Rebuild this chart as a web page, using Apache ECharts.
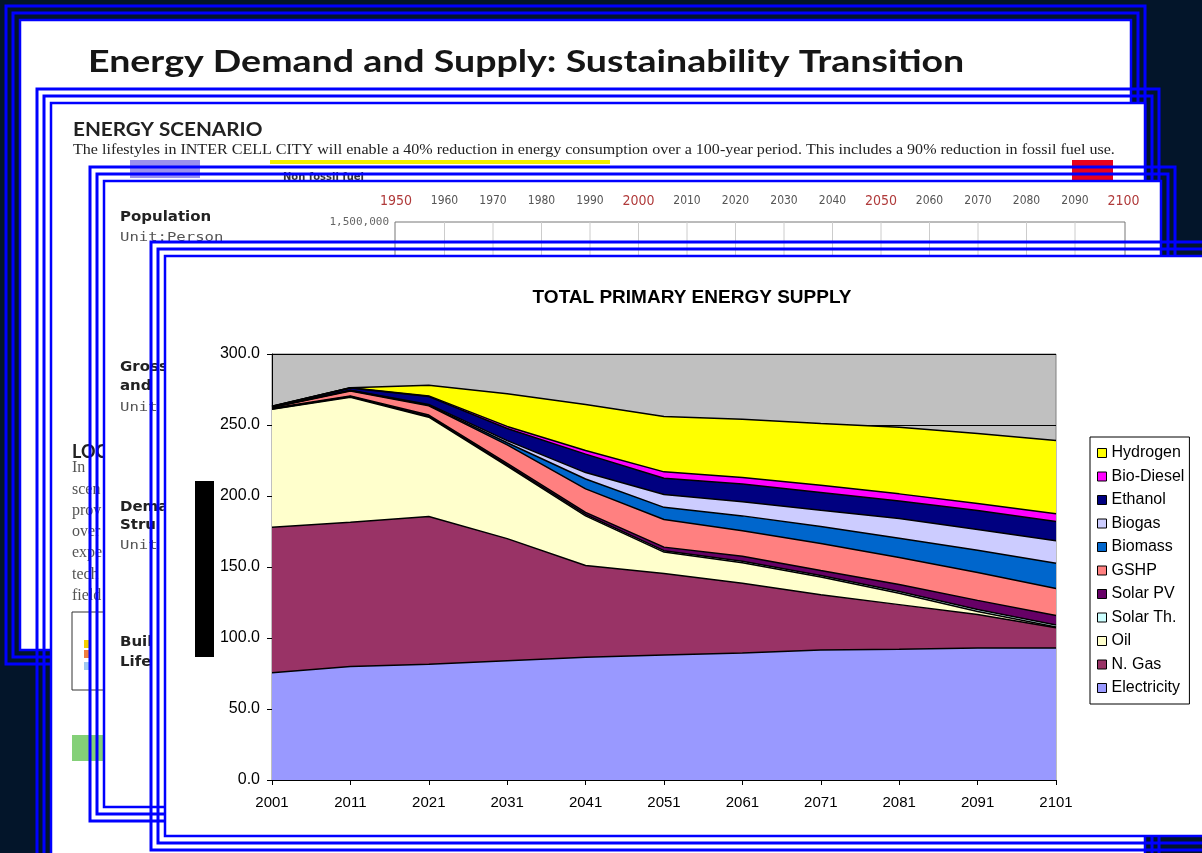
<!DOCTYPE html>
<html>
<head>
<meta charset="utf-8">
<title>Total primary energy supply</title>
<script src="https://cdn.jsdelivr.net/npm/echarts@6/dist/echarts.min.js"></script>
<style>
  html, body { margin: 0; padding: 0; background: #03152a; }
  #wrap { width: 1202px; height: 853px; }
</style>
</head>
<body>
<div id="wrap"></div>
<script>
// years on the x axis
var years = ['2001', '2011', '2021', '2031', '2041', '2051', '2061', '2071', '2081', '2091', '2101'];

// stacked supply, bottom to top
var electricity = [75.5, 80, 81.5, 84, 86.5, 88, 89.5, 91.5, 92, 93, 93];
var nGas        = [102.5, 101.5, 104, 86, 64.5, 57.5, 49, 39, 31.5, 23.5, 14.2];
var oil         = [83, 88, 70, 51, 35, 15, 14.5, 12.5, 8, 2.2, 0.5];
var solarTh     = [0.3, 0.5, 0.5, 0.8, 1, 1, 1, 1, 1.2, 1.3, 1.5];
var solarPV     = [0.5, 0.5, 1, 1.2, 1.5, 2.5, 3.5, 3.5, 5, 6.5, 6.7];
var gshp        = [0.5, 3.5, 6.5, 13, 16.5, 19.5, 18, 19, 19, 19.6, 18.9];
var biomass     = [0.2, 0.3, 0.5, 1.5, 7, 8.5, 10.5, 12, 13.5, 15.7, 17.8];
var biogas      = [0.2, 0.2, 0.5, 1.5, 4.5, 9, 10, 11.5, 14, 14.6, 15.9];
var ethanol     = [0.4, 1.5, 5.5, 8.5, 13, 11.5, 12.5, 12.5, 12.3, 13.4, 13.5];
var bioDiesel   = [0.1, 0.3, 0.5, 1.5, 2.5, 4.5, 4.5, 5, 5, 5, 5.5];
var hydrogen    = [0, 0, 7.5, 23, 32.5, 39, 41, 43.5, 47, 49.2, 51.5];

var seriesNames = ['Electricity', 'N. Gas', 'Oil', 'Solar Th.', 'Solar PV', 'GSHP', 'Biomass', 'Biogas', 'Ethanol', 'Bio-Diesel', 'Hydrogen'];
var seriesData  = [electricity, nGas, oil, solarTh, solarPV, gshp, biomass, biogas, ethanol, bioDiesel, hydrogen];
var seriesColors = ['#9999ff', '#993366', '#ffffcc', '#ccffff', '#660066', '#ff8080', '#0066cc', '#ccccff', '#000080', '#ff00ff', '#ffff00'];

// labels on the slide behind the chart
var popYears = ['1950', '1960', '1970', '1980', '1990', '2000', '2010', '2020', '2030', '2040', '2050', '2060', '2070', '2080', '2090', '2100'];

// ---- slides in the background (drawn with graphic elements) ----
var gfx = [];
var zc = -300;
function add(el) { el.z = zc++; el.silent = true; gfx.push(el); }
function frame(x, y, w, h) {
  add({type: 'rect', shape: {x: x + 14, y: y + 14, width: w - 28, height: h - 28}, style: {fill: '#fff'}});
  [0, 7, 14].forEach(function (d, i) {
    add({type: 'rect', shape: {x: x + d, y: y + d, width: w - 2 * d, height: h - 2 * d},
         style: {fill: 'none', stroke: '#0000ff', lineWidth: i < 2 ? 3 : 2.5}});
  });
}
function txt(x, y, s, font, color, align, sx) {
  add({type: 'text', x: x, y: y, scaleX: sx || 1, style: {text: s, font: font, fill: color || '#000',
       textAlign: align || 'left', textVerticalAlign: 'middle'}});
}
function box(x, y, w, h, fill, stroke) {
  add({type: 'rect', shape: {x: x, y: y, width: w, height: h},
       style: {fill: fill, stroke: stroke || null, lineWidth: stroke ? 1 : 0}});
}

// slide A
frame(6, 6, 1139, 658);
txt(88, 62, 'Energy Demand and Supply: Sustainability Transition', 'bold 31px Lato', '#161616', 'left', 1.21);

// slide B
frame(37, 89, 1122, 800);
txt(73, 130, 'ENERGY SCENARIO', 'bold 18px Lato', '#222', 'left', 1.15);
txt(73, 150, 'The lifestyles in INTER CELL CITY will enable a 40% reduction in energy consumption over a 100-year period. This includes a 90% reduction in fossil fuel use.',
    '15px "Liberation Serif"', '#222', 'left', 1.07);
box(130, 160, 70, 18, '#9a90ee');
box(270, 160, 340, 4, '#f4f000');
txt(283, 177, 'Non fossil fuel', 'bold 10px "DejaVu Sans"', '#333');
box(1072, 160, 41, 20, '#e8001c');
txt(72, 452, 'LOC', 'bold 18px Lato', '#222');
['In', 'scen', 'prov', 'over', 'expe', 'tech', 'field'].forEach(function (s, i) {
  txt(72, 468 + i * 21.3, s, '16px "Liberation Serif"', '#555');
});
box(72, 612, 60, 78, '#fff', '#333');
box(84, 640, 6, 8, '#f5d000');
box(84, 650, 6, 8, '#f08040');
box(84, 662, 6, 8, '#a0c8f0');
box(72, 735, 40, 26, '#84d078');

// slide C
frame(90, 167, 1085, 654);
txt(120, 217, 'Population', 'bold 14px "DejaVu Sans"', '#222', 'left', 1.07);
txt(120, 238, 'Unit:Person', '13px "DejaVu Sans Mono"', '#555', 'left', 1.2);
txt(120, 367, 'Gross', 'bold 14px "DejaVu Sans"', '#222', 'left', 1.07);
txt(120, 386, 'and', 'bold 14px "DejaVu Sans"', '#222', 'left', 1.07);
txt(120, 408, 'Unit', '13px "DejaVu Sans Mono"', '#555', 'left', 1.2);
txt(120, 507, 'Dema', 'bold 14px "DejaVu Sans"', '#222', 'left', 1.07);
txt(120, 525, 'Stru', 'bold 14px "DejaVu Sans"', '#222', 'left', 1.07);
txt(120, 546, 'Unit', '13px "DejaVu Sans Mono"', '#555', 'left', 1.2);
txt(120, 642, 'Buil', 'bold 14px "DejaVu Sans"', '#222', 'left', 1.07);
txt(120, 662, 'Life', 'bold 14px "DejaVu Sans"', '#222', 'left', 1.07);
txt(389, 222, '1,500,000', '11px "DejaVu Sans Mono"', '#666', 'right');
box(395, 222, 730, 60, '#fff', '#777');
popYears.forEach(function (yr, i) {
  var px = 396 + i * 48.5;
  var red = (yr === '1950' || yr === '2000' || yr === '2050' || yr === '2100');
  txt(px, 201, yr, (red ? '14px' : '12px') + ' "DejaVu Sans Condensed"', red ? '#b03a3a' : '#555', 'center');
  if (i > 0 && i < popYears.length - 1) {
    add({type: 'line', shape: {x1: px, y1: 222, x2: px, y2: 282}, style: {stroke: '#ccc', lineWidth: 1}});
  }
});

// slide D (the chart itself)
frame(151, 242, 1090, 608);
box(195, 481, 19, 176, '#000');

// ---- chart ----
var series = seriesNames.map(function (n, i) {
  return {
    name: n,
    type: 'line',
    stack: 'tpes',
    data: seriesData[i],
    symbol: 'none',
    itemStyle: {color: seriesColors[i]},
    lineStyle: {color: '#000', width: 1.5},
    areaStyle: {color: seriesColors[i], opacity: 1},
    emphasis: {disabled: true}
  };
});

var myChart = echarts.init(document.getElementById('wrap'));
var option = {
  backgroundColor: '#03152a',
  animation: false,
  title: {
    text: 'TOTAL PRIMARY ENERGY SUPPLY',
    left: 687, top: 283, textAlign: 'center',
    textStyle: {fontFamily: 'Liberation Sans', fontWeight: 'bold', fontSize: 19, color: '#000'}
  },
  graphic: gfx,
  grid: {
    left: 272, right: 146, top: 354, bottom: 73,
    show: true, backgroundColor: '#c0c0c0', borderColor: '#808080', borderWidth: 1
  },
  legend: {
    orient: 'vertical', left: 1090, top: 437,
    data: seriesNames.slice().reverse(),
    icon: 'rect', itemWidth: 9, itemHeight: 9, itemGap: 7.5,
    itemStyle: {borderColor: '#000', borderWidth: 1},
    textStyle: {fontFamily: 'Liberation Sans', fontSize: 16, color: '#000'},
    backgroundColor: '#fff', borderColor: '#000', borderWidth: 1,
    padding: [8, 5, 8, 7],
    selectedMode: false
  },
  xAxis: {
    type: 'category', data: years, boundaryGap: false,
    axisLine: {lineStyle: {color: '#000'}},
    axisTick: {show: true, length: 5, lineStyle: {color: '#000'}},
    axisLabel: {color: '#000', fontFamily: 'Liberation Sans', fontSize: 15, margin: 15},
    splitLine: {show: false}
  },
  yAxis: {
    type: 'value', min: 0, max: 300, interval: 50,
    axisLine: {show: true, lineStyle: {color: '#000'}},
    axisTick: {show: true, length: 5, lineStyle: {color: '#000'}},
    axisLabel: {color: '#000', fontFamily: 'Liberation Sans', fontSize: 16, margin: 12,
                formatter: function (v) { return v.toFixed(1); }},
    splitLine: {show: true, lineStyle: {color: '#000', width: 1}}
  },
  series: series
};
myChart.setOption(option);
</script>
</body>
</html>
